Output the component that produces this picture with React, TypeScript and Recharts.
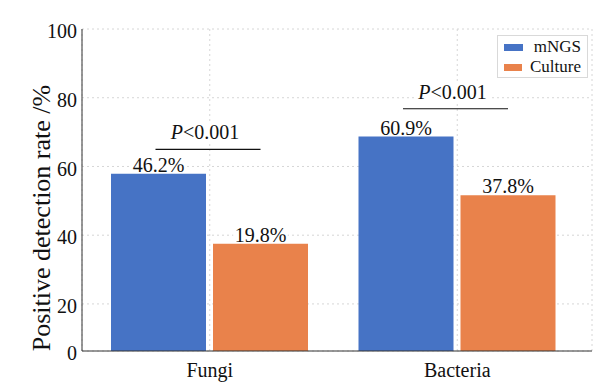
import { BarChart, Bar, XAxis, YAxis, CartesianGrid, LabelList } from "recharts";

const FONT = "Liberation Serif";
const BLUE = "#4673C5";
const ORANGE = "#E9824B";
const BAR_SIZE = 95;
const BAR_GAP = 7;

// values as drawn against the (broken) y axis; printed labels kept separately
const categories = ["Fungi", "Bacteria"];
const mngsValues = [57.9, 68.7];
const cultureValues = [37.5, 51.6];
const mngsLabels = ["46.2%", "60.9%"];
const cultureLabels = ["19.8%", "37.8%"];
const pLabels = ["P<0.001", "P<0.001"];
const bracketLevels = [65, 76.8];
const seriesNames = ["mNGS", "Culture"];

// the bottom of the axis is labelled "0" but sits short of the 20-step spacing
const AXIS_FLOOR = 6.3;
const yTicks = [AXIS_FLOOR, 20, 40, 60, 80, 100];
const yTickLabels = ["0", "20", "40", "60", "80", "100"];

const data = categories.map((name, i) => ({
  name,
  mngs: mngsValues[i],
  culture: cultureValues[i],
  mngsLabel: mngsLabels[i],
  cultureLabel: cultureLabels[i],
}));

function ValueLabel(props: any) {
  const { x, y, width, value } = props;
  const cx = Number(x) + Number(width) / 2;
  const w = String(value).length * 10.5 + 2;
  return (
    <g>
      <rect x={cx - w / 2} y={Number(y) - 18} width={w} height={16} fill="#fff" />
      <text x={cx} y={Number(y) - 2} textAnchor="middle" fontSize={20} fontFamily={FONT} fill="#111">
        {value}
      </text>
    </g>
  );
}

function PBracket(props: any) {
  const { x, y, width, height, value, index } = props;
  const level = bracketLevels[index];
  const pxPerUnit = Number(height) / (Number(value) - AXIS_FLOOR);
  const ly = Number(y) - (level - Number(value)) * pxPerUnit;
  const x1 = Number(x) + Number(width) / 2 - 3;
  const x2 = Number(x) + Number(width) * 1.5 + BAR_GAP;
  const cx = (x1 + x2) / 2 - 3;
  const label = pLabels[index];
  return (
    <g>
      <rect x={cx - 37} y={ly - 27} width={74} height={21} fill="#fff" />
      <line x1={x1} x2={x2} y1={ly} y2={ly} stroke="#111" strokeWidth={1.2} />
      <text x={cx} y={ly - 10} textAnchor="middle" fontSize={20} fontFamily={FONT} fill="#111">
        <tspan fontStyle="italic">{label.slice(0, 1)}</tspan>
        {label.slice(1)}
      </text>
    </g>
  );
}

function LegendBox() {
  const colors = [BLUE, ORANGE];
  return (
    <div
      style={{
        position: "absolute",
        left: 497,
        top: 35,
        border: "1px solid #d9d9d9",
        background: "#fff",
        width: 91,
        height: 43,
        boxSizing: "border-box",
        padding: "1px 0 0 6px",
        fontFamily: FONT,
        fontSize: 17,
        color: "#111",
      }}
    >
      {seriesNames.map((name, i) => (
        <div key={name} style={{ display: "flex", alignItems: "center", height: 20 }}>
          <span style={{ display: "inline-block", width: 19, height: 7, background: colors[i], marginRight: 8 }} />
          <span style={{ flex: 1, textAlign: "right", paddingRight: 6 }}>{name}</span>
        </div>
      ))}
    </div>
  );
}

function YLabel() {
  const cx = 50;
  const cy = 218;
  return (
    <text
      x={cx}
      y={cy}
      transform={`rotate(-90, ${cx}, ${cy})`}
      textAnchor="middle"
      fontSize={26}
      fontFamily={FONT}
      fill="#111"
    >
      Positive detection rate /%
    </text>
  );
}

export default function App() {
  return (
    <div style={{ position: "absolute", left: 0, top: 0, width: 601, height: 384, background: "#fff", fontFamily: FONT }}>
      <BarChart
        width={601}
        height={384}
        data={data}
        margin={{ top: 29, right: 9, bottom: 0, left: 0 }}
        barGap={BAR_GAP}
        barSize={BAR_SIZE}
      >
        <CartesianGrid stroke="#d6d6d6" strokeDasharray="2 3" />
        <XAxis
          dataKey="name"
          height={33}
          padding={{ left: 4, right: 11 }}
          tickLine={false}
          tickSize={0}
          tickMargin={12}
          axisLine={{ stroke: "#333" }}
          tick={{ fontSize: 20, fill: "#111", fontFamily: FONT }}
        />
        <YAxis
          width={82}
          type="number"
          domain={[AXIS_FLOOR, 100]}
          ticks={yTicks}
          interval={0}
          tickFormatter={(v: number) => yTickLabels[yTicks.indexOf(v)]}
          tickLine={false}
          tickSize={0}
          tickMargin={5}
          axisLine={{ stroke: "#333" }}
          tick={{ fontSize: 20, fill: "#111", dy: 2, fontFamily: FONT }}
          label={<YLabel />}
        />
        <Bar dataKey="mngs" name={seriesNames[0]} fill={BLUE} isAnimationActive={false}>
          <LabelList dataKey="mngsLabel" content={ValueLabel} />
          <LabelList dataKey="mngs" content={PBracket} />
        </Bar>
        <Bar dataKey="culture" name={seriesNames[1]} fill={ORANGE} isAnimationActive={false}>
          <LabelList dataKey="cultureLabel" content={ValueLabel} />
        </Bar>
      </BarChart>
      <LegendBox />
    </div>
  );
}
